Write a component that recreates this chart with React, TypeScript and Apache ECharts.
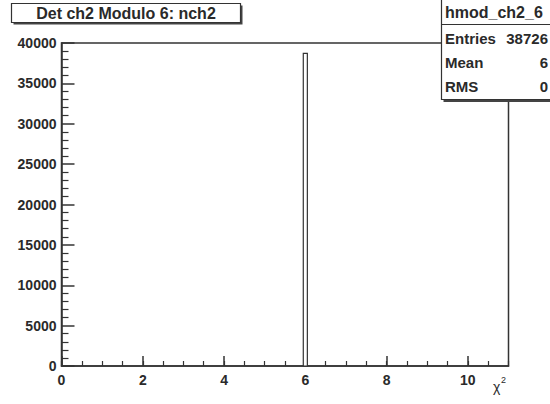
import React, { useEffect, useRef } from "react";
import * as echarts from "echarts";

const binLow = [5.95];
const binHigh = [6.05];
const counts = [38726];

const histTitle = "Det ch2 Modulo 6: nch2";
const statsName = "hmod_ch2_6";
const statsLabels = ["Entries", "Mean", "RMS"];
const statsValues = ["38726", "6", "0"];
const xAxisTitle = "χ";
const xAxisTitleSup = "2";

const FONT = "'Liberation Sans', Arial, sans-serif";
const INK = "#2a2a2a";

export default function App() {
  const ref = useRef<HTMLDivElement>(null);
  useEffect(() => {
    if (!ref.current) return;
    const chart = echarts.init(ref.current, undefined, { renderer: "svg" });
    const data = binLow.map((lo, i) => [lo, binHigh[i], counts[i]]);
    const statsRowY = [38, 62, 86];
    const statsGraphics: any[] = [];
    statsLabels.forEach((lab, i) => {
      statsGraphics.push({
        type: "text",
        x: 445,
        y: statsRowY[i],
        style: { text: lab, font: `bold 15px ${FONT}`, fill: INK, textVerticalAlign: "middle", textAlign: "left" },
        z: 20,
      });
      statsGraphics.push({
        type: "text",
        x: 548,
        y: statsRowY[i],
        style: { text: statsValues[i], font: `bold 15px ${FONT}`, fill: INK, textVerticalAlign: "middle", textAlign: "right" },
        z: 20,
      });
    });
    chart.setOption({
      animation: false,
      backgroundColor: "#ffffff",
      grid: {
        left: 61.5,
        top: 43,
        right: 41.5,
        bottom: 38,
        show: true,
        borderColor: "#333",
        borderWidth: 1.5,
        backgroundColor: "transparent",
      },
      xAxis: [
        {
          type: "value",
          min: 0,
          max: 11,
          interval: 2,
          axisLine: { show: true, onZero: false, lineStyle: { color: "#333", width: 1.5 } },
          axisTick: { show: true, inside: true, length: 10, lineStyle: { color: "#333", width: 1.5 } },
          axisLabel: {
            show: true,
            showMaxLabel: false,
            margin: 7,
            color: INK,
            fontSize: 14,
            fontWeight: "bold",
            fontFamily: FONT,
            formatter: (v: number) => String(v),
          },
          splitLine: { show: false },
        },
        {
          type: "value",
          position: "bottom",
          min: 0,
          max: 11,
          interval: 0.5,
          axisLine: { show: false },
          axisTick: { show: true, inside: true, length: 5, lineStyle: { color: "#333", width: 1.2 } },
          axisLabel: { show: false },
          splitLine: { show: false },
        },
      ],
      yAxis: [
        {
          type: "value",
          min: 0,
          max: 40000,
          interval: 5000,
          axisLine: { show: true, onZero: false, lineStyle: { color: "#333", width: 1.5 } },
          axisTick: { show: true, inside: true, length: 13, lineStyle: { color: "#333", width: 1.5 } },
          minorTick: { show: true, splitNumber: 5, length: 7, lineStyle: { color: "#333", width: 1.2 } },
          axisLabel: {
            show: true,
            margin: 5,
            color: INK,
            fontSize: 14,
            fontWeight: "bold",
            fontFamily: FONT,
            formatter: (v: number) => String(v),
          },
          splitLine: { show: false },
        },
      ],
      series: [
        {
          type: "custom",
          xAxisIndex: 0,
          yAxisIndex: 0,
          encode: { x: [0, 1], y: 2 },
          data,
          renderItem: (params: any, api: any) => {
            const p0 = api.coord([api.value(0), api.value(2)]);
            const p1 = api.coord([api.value(1), 0]);
            return {
              type: "rect",
              shape: { x: p0[0], y: p0[1], width: p1[0] - p0[0], height: p1[1] - p0[1] },
              style: { fill: "#ffffff", stroke: "#333", lineWidth: 1.2 },
            };
          },
        },
      ],
      graphic: [
        { type: "rect", shape: { x: 13.5, y: 5.5, width: 229, height: 19 }, style: { fill: "#444", stroke: "none" }, z: 10 },
        { type: "rect", shape: { x: 11.5, y: 3.5, width: 229, height: 19 }, style: { fill: "#ffffff", stroke: "#333", lineWidth: 1.2 }, z: 11 },
        {
          type: "text",
          x: 126,
          y: 13.5,
          style: { text: histTitle, font: `bold 16px ${FONT}`, fill: INK, textAlign: "center", textVerticalAlign: "middle" },
          z: 12,
        },
        { type: "rect", shape: { x: 443.5, y: 2, width: 110, height: 100 }, style: { fill: "#444", stroke: "none" }, z: 18 },
        { type: "rect", shape: { x: 441.5, y: -1, width: 112, height: 100.5 }, style: { fill: "#ffffff", stroke: "#333", lineWidth: 1.2 }, z: 19 },
        { type: "line", shape: { x1: 441.5, y1: 24.5, x2: 552, y2: 24.5 }, style: { stroke: "#333", lineWidth: 1.2 }, z: 20 },
        {
          type: "text",
          x: 445,
          y: 12.5,
          style: { text: statsName, font: `bold 16px ${FONT}`, fill: INK, textAlign: "left", textVerticalAlign: "middle" },
          z: 20,
        },
        ...statsGraphics,
        {
          type: "text",
          x: 493,
          y: 387,
          style: { text: xAxisTitle, font: `14px ${FONT}`, fill: INK, textAlign: "left", textVerticalAlign: "middle" },
          z: 20,
        },
        {
          type: "text",
          x: 501,
          y: 380,
          style: { text: xAxisTitleSup, font: `9px ${FONT}`, fill: INK, textAlign: "left", textVerticalAlign: "middle" },
          z: 20,
        },
      ],
    });
    return () => chart.dispose();
  }, []);
  return (
    <div
      ref={ref}
      style={{ position: "absolute", left: 0, top: 0, width: 550, height: 404, background: "#fff" }}
    />
  );
}
